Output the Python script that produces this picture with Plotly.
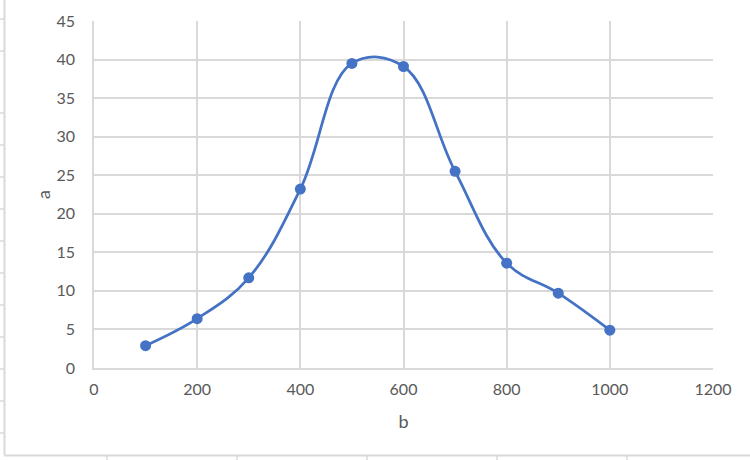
import plotly.graph_objects as go

b_values = [100, 200, 300, 400, 500, 600, 700, 800, 900, 1000]
a_values = [2.9, 6.4, 11.7, 23.2, 39.5, 39.1, 25.5, 13.6, 9.7, 4.9]

x_ticks = [0, 200, 400, 600, 800, 1000, 1200]
y_ticks = [0, 5, 10, 15, 20, 25, 30, 35, 40, 45]

BLUE = "#4472C4"
GRID = "#D9D9D9"
TXT = "#595959"
FONT = "Lato"

fig = go.Figure()
fig.add_trace(go.Scatter(
    x=b_values, y=a_values, mode="lines+markers",
    line=dict(color=BLUE, width=2.75, shape="spline", smoothing=1.1),
    marker=dict(color=BLUE, size=11),
    showlegend=False,
))

W, H = 750, 460
ml, mr, mt, mb = 94, 37, 21, 92
pw, ph = W - ml - mr, H - mt - mb

def px_to_paper_x(px):
    return (px - ml) / pw

def px_to_paper_y(py):
    return (H - mb - py) / ph

# spreadsheet cell borders behind the chart
shapes = []
shapes.append(dict(type="line", xref="paper", yref="paper",
                   x0=px_to_paper_x(4.5), x1=px_to_paper_x(4.5),
                   y0=px_to_paper_y(0), y1=px_to_paper_y(455.5),
                   line=dict(color=GRID, width=2), layer="below"))
shapes.append(dict(type="line", xref="paper", yref="paper",
                   x0=px_to_paper_x(4.5), x1=px_to_paper_x(750),
                   y0=px_to_paper_y(455.5), y1=px_to_paper_y(455.5),
                   line=dict(color=GRID, width=2), layer="below"))
for ty in [19, 51, 113, 145, 177, 209, 241, 273, 305, 337, 369, 401, 433]:
    shapes.append(dict(type="line", xref="paper", yref="paper",
                       x0=px_to_paper_x(0), x1=px_to_paper_x(4.5),
                       y0=px_to_paper_y(ty), y1=px_to_paper_y(ty),
                       line=dict(color=GRID, width=1.5), layer="below"))
for tx in [107, 237, 367, 497, 627]:
    shapes.append(dict(type="line", xref="paper", yref="paper",
                       x0=px_to_paper_x(tx), x1=px_to_paper_x(tx),
                       y0=px_to_paper_y(455.5), y1=px_to_paper_y(460),
                       line=dict(color=GRID, width=1.5), layer="below"))

fig.update_layout(
    width=W, height=H,
    margin=dict(l=ml, r=mr, t=mt, b=mb, pad=0),
    paper_bgcolor="white", plot_bgcolor="white",
    font=dict(family=FONT, size=16, color=TXT),
    shapes=shapes,
    xaxis=dict(
        range=[0, 1200], tickvals=x_ticks, ticktext=[str(v) for v in x_ticks],
        showgrid=True, gridcolor=GRID, gridwidth=1.5,
        showline=True, linecolor=GRID, linewidth=1.5,
        zeroline=False, ticks="", ticklabelstandoff=6,
        tickfont=dict(size=16),
        title=dict(text="b", font=dict(size=18, color=TXT), standoff=18),
    ),
    yaxis=dict(
        range=[0, 45], tickvals=y_ticks, ticktext=[str(v) for v in y_ticks],
        showgrid=True, gridcolor=GRID, gridwidth=1.5,
        showline=True, linecolor=GRID, linewidth=1.5,
        zeroline=False, ticks="", ticklabelstandoff=14,
        tickfont=dict(size=16),
        title=dict(text="a", font=dict(size=18, color=TXT), standoff=1),
    ),
)

fig.write_html(
    "out.html",
    config={"displayModeBar": False},
    post_script="document.body.style.margin='0';",
)
